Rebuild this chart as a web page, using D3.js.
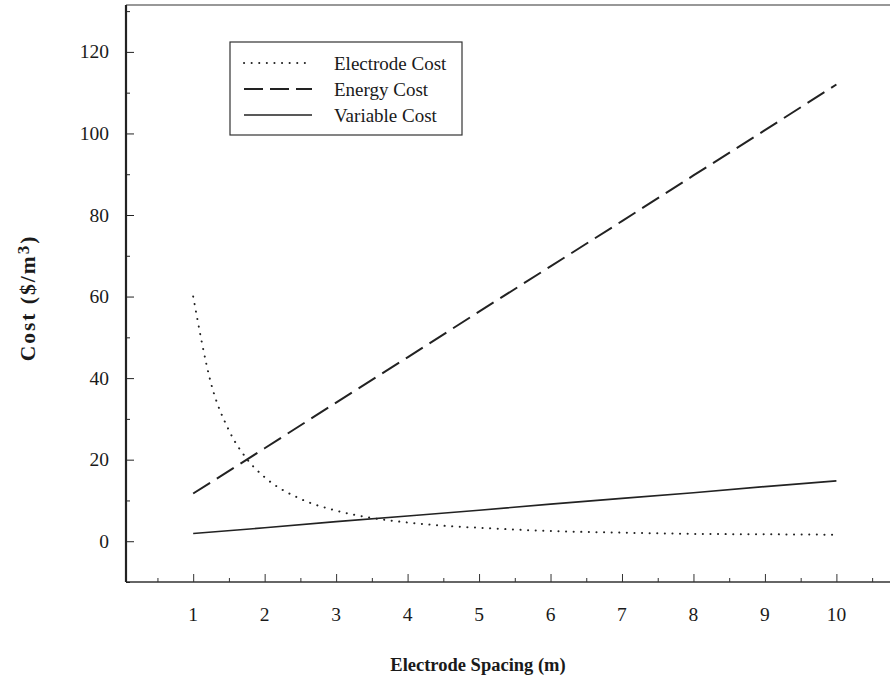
<!DOCTYPE html>
<html>
<head>
<meta charset="utf-8">
<script src="https://cdn.jsdelivr.net/npm/d3@7"></script>
<style>
  body { margin: 0; background: #fff; }
  text { font-family: "Liberation Serif", "Times New Roman", serif; fill: #1a1a1a; }
</style>
</head>
<body>
<svg id="chart"></svg>
<script>
let width = 890, height = 681;

// data
let spacing = [1, 1.25, 1.5, 1.75, 2, 2.5, 3, 3.5, 4, 4.5, 5, 6, 7, 8, 9, 10];
let electrodeCost = [60, 38.7, 27.2, 20.2, 15.7, 10.4, 7.5, 5.7, 4.6, 3.8, 3.3, 2.5, 2.1, 1.8, 1.7, 1.6];
let spacingInt = [1, 2, 3, 4, 5, 6, 7, 8, 9, 10];
let energyCost = [11.7, 22.8, 34, 45.1, 56.3, 67.4, 78.5, 89.7, 100.8, 112];
let variableCost = [1.9, 3.3, 4.8, 6.2, 7.6, 9.1, 10.5, 11.9, 13.4, 14.8];
let xTicks = [1, 2, 3, 4, 5, 6, 7, 8, 9, 10];
let yTicks = [0, 20, 40, 60, 80, 100, 120];

let svg = d3.select("#chart")
  .attr("width", width)
  .attr("height", height);

let xax = d3.scaleLinear()
  .domain([0.06, 10.82])
  .range([126, 895]);

let yax = d3.scaleLinear()
  .domain([-10, 131.5])
  .range([582, 5]);

// frame
svg.append("line")
  .attr("x1", xax(0.06)).attr("x2", width)
  .attr("y1", yax(131.5)).attr("y2", yax(131.5))
  .attr("stroke", "#333").attr("stroke-width", 1.2);

// x axis, ticks pointing in
let xAxis = svg.append("g")
  .attr("transform", `translate(0,${yax(-10)})`);
xAxis.call(d3.axisTop(xax).tickValues(d3.range(0.5, 10.6, 0.5)).tickSize(4).tickFormat(""));
xAxis.call(g => g.selectAll(".tick").filter(d => Number.isInteger(d)).select("line").attr("y2", -8));
xAxis.select(".domain").attr("d", `M${xax(0.06)},0H${width}`).attr("stroke-width", 1.5);
xAxis.selectAll("line, path").attr("stroke", "#333");

svg.append("g")
  .selectAll("text")
  .data(xTicks)
  .join("text")
    .attr("x", d => xax(d))
    .attr("y", 621)
    .attr("text-anchor", "middle")
    .attr("font-size", 19.5)
    .text(d => d);

// y axis
let yAxis = svg.append("g")
  .attr("transform", `translate(${xax(0.06)},0)`);
yAxis.call(d3.axisRight(yax).tickValues(d3.range(-10, 131, 10)).tickSize(4).tickFormat(""));
yAxis.call(g => g.selectAll(".tick").filter(d => d % 20 === 0).select("line").attr("x2", 8));
yAxis.select(".domain").attr("d", `M0,${yax(131.5)}V${yax(-10)}`).attr("stroke-width", 2.2);
yAxis.selectAll("line, path").attr("stroke", "#222");

svg.append("g")
  .selectAll("text")
  .data(yTicks)
  .join("text")
    .attr("x", 109)
    .attr("y", d => yax(d) + 6.5)
    .attr("text-anchor", "end")
    .attr("font-size", 19.5)
    .text(d => d);

// axis titles
svg.append("text")
  .attr("x", 478)
  .attr("y", 671)
  .attr("text-anchor", "middle")
  .attr("font-size", 18.5)
  .attr("font-weight", "bold")
  .text("Electrode Spacing (m)");

let ytitle = svg.append("text")
  .attr("transform", "translate(35,298) rotate(-90)")
  .attr("text-anchor", "middle")
  .attr("font-size", 21.5)
  .attr("font-weight", "bold")
  .attr("letter-spacing", 2);
ytitle.append("tspan").text("Cost ($/m");
ytitle.append("tspan").attr("dy", -6).attr("font-size", 17).text("3");
ytitle.append("tspan").attr("dy", 6).text(")");

// lines
let line = d3.line()
  .x(d => xax(d[0]))
  .y(d => yax(d[1]));

svg.append("path")
  .attr("d", line.curve(d3.curveMonotoneX)(spacing.map((d, i) => [d, electrodeCost[i]])))
  .attr("fill", "none")
  .attr("stroke", "#222")
  .attr("stroke-width", 2)
  .attr("stroke-linecap", "round")
  .attr("stroke-dasharray", "0.1,7.5");

svg.append("path")
  .attr("d", line.curve(d3.curveLinear)(spacingInt.map((d, i) => [d, energyCost[i]])))
  .attr("fill", "none")
  .attr("stroke", "#222")
  .attr("stroke-width", 2)
  .attr("stroke-dasharray", "20,8");

svg.append("path")
  .attr("d", line.curve(d3.curveLinear)(spacingInt.map((d, i) => [d, variableCost[i]])))
  .attr("fill", "none")
  .attr("stroke", "#222")
  .attr("stroke-width", 1.6);

// legend
let legendItems = [
  { name: "Electrode Cost", dash: "0.1,7.5", cap: "round", w: 2 },
  { name: "Energy Cost", dash: "19,7", cap: "butt", w: 2 },
  { name: "Variable Cost", dash: null, cap: "butt", w: 1.6 }
];

let legend = svg.append("g");
legend.append("rect")
  .attr("x", 230).attr("y", 42)
  .attr("width", 232).attr("height", 93)
  .attr("fill", "#fff")
  .attr("stroke", "#333")
  .attr("stroke-width", 1.2);

legend.selectAll("line")
  .data(legendItems)
  .join("line")
    .attr("x1", 244).attr("x2", 312)
    .attr("y1", (d, i) => 63 + i * 26)
    .attr("y2", (d, i) => 63 + i * 26)
    .attr("stroke", "#222")
    .attr("stroke-width", d => d.w)
    .attr("stroke-linecap", d => d.cap)
    .attr("stroke-dasharray", d => d.dash);

legend.selectAll("text")
  .data(legendItems)
  .join("text")
    .attr("x", 334)
    .attr("y", (d, i) => 69.5 + i * 26)
    .attr("font-size", 19)
    .text(d => d.name);
</script>
</body>
</html>
